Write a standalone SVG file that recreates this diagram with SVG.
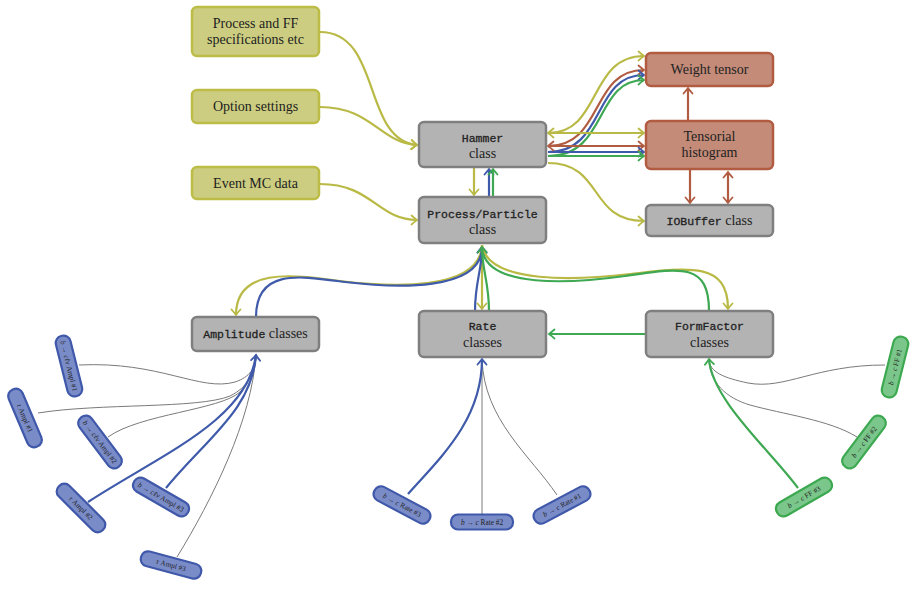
<svg xmlns="http://www.w3.org/2000/svg" width="916" height="590" viewBox="0 0 916 590">
<style>
.box{stroke-width:2.5}
.y{fill:#cccd80;stroke:#bcbc46}
.g{fill:#b3b3b3;stroke:#7f7f7f}
.b{fill:#c48b78;stroke:#b15b41}
.sb{fill:#7a8cc8;stroke:#3f58a9;stroke-width:2.2}
.sg{fill:#7bc78b;stroke:#3ca850;stroke-width:2.2}
text{font-family:"Liberation Serif","DejaVu Serif",serif;font-size:14px;fill:#222;text-anchor:middle}
.m{font-family:"Liberation Mono","DejaVu Sans Mono",monospace;font-size:11.5px;font-weight:normal;stroke:#222;stroke-width:0.3}
.s{font-size:7.3px}
.i{font-style:italic}
.c path,.c line{fill:none}
.cy{stroke:#b9b945;stroke-width:2.2}
.cr{stroke:#b15b41;stroke-width:2.2}
.cb{stroke:#3f5aaa;stroke-width:2.2}
.cg{stroke:#3ea852;stroke-width:2.2}
.cx{stroke:#7a7a7a;stroke-width:1}
</style>
<defs>
<marker id="ay" viewBox="-7 -6 9 12" markerWidth="9" markerHeight="12" refX="0" refY="0" orient="auto-start-reverse" markerUnits="userSpaceOnUse"><path d="M-5.5,-4.5 Q-1.5,-1 0,0 Q-1.5,1 -5.5,4.5" fill="none" stroke="#b9b945" stroke-width="1.8" stroke-linecap="round"/></marker>
<marker id="ar" viewBox="-7 -6 9 12" markerWidth="9" markerHeight="12" refX="0" refY="0" orient="auto-start-reverse" markerUnits="userSpaceOnUse"><path d="M-5.5,-4.5 Q-1.5,-1 0,0 Q-1.5,1 -5.5,4.5" fill="none" stroke="#b15b41" stroke-width="1.8" stroke-linecap="round"/></marker>
<marker id="ab" viewBox="-7 -6 9 12" markerWidth="9" markerHeight="12" refX="0" refY="0" orient="auto-start-reverse" markerUnits="userSpaceOnUse"><path d="M-5.5,-4.5 Q-1.5,-1 0,0 Q-1.5,1 -5.5,4.5" fill="none" stroke="#3f5aaa" stroke-width="1.8" stroke-linecap="round"/></marker>
<marker id="ag" viewBox="-7 -6 9 12" markerWidth="9" markerHeight="12" refX="0" refY="0" orient="auto-start-reverse" markerUnits="userSpaceOnUse"><path d="M-5.5,-4.5 Q-1.5,-1 0,0 Q-1.5,1 -5.5,4.5" fill="none" stroke="#3ea852" stroke-width="1.8" stroke-linecap="round"/></marker>
</defs>

<g id="connectors" class="c">
<path class="cy" d="M320,32 C382,32 362,140 417,145" marker-end="url(#ay)"/>
<path class="cy" d="M320,107 C372,107 380,143 417,145" marker-end="url(#ay)"/>
<path class="cy" d="M320,184 C372,184 378,220 417,220" marker-end="url(#ay)"/>
<line class="cy" x1="474" y1="168" x2="474" y2="195" marker-end="url(#ay)"/>
<line class="cb" x1="489" y1="197" x2="489" y2="169" marker-end="url(#ab)"/>
<line class="cg" x1="493" y1="197" x2="493" y2="169" marker-end="url(#ag)"/>
<path class="cy" d="M548,133 C602,133 588,56 644,56" marker-end="url(#ay)"/>
<path class="cr" d="M548,146 C604,146 590,70 644,70" marker-end="url(#ar)"/>
<path class="cb" d="M548,152 C606,152 592,75 644,75" marker-end="url(#ab)"/>
<path class="cg" d="M548,156 C608,156 594,80 644,80" marker-end="url(#ag)"/>
<line class="cy" x1="548" y1="133" x2="644" y2="133" marker-start="url(#ay)" marker-end="url(#ay)"/>
<line class="cr" x1="548" y1="146" x2="644" y2="146" marker-start="url(#ar)" marker-end="url(#ar)"/>
<line class="cb" x1="548" y1="152" x2="644" y2="152" marker-end="url(#ab)"/>
<line class="cg" x1="548" y1="156" x2="644" y2="156" marker-end="url(#ag)"/>
<path class="cy" d="M548,163 C604,163 588,221 644,221" marker-end="url(#ay)"/>
<line class="cr" x1="688" y1="120" x2="688" y2="88" marker-end="url(#ar)"/>
<line class="cr" x1="690" y1="170" x2="690" y2="203" marker-end="url(#ar)"/>
<line class="cr" x1="728" y1="172" x2="728" y2="203" marker-start="url(#ar)" marker-end="url(#ar)"/>
<path class="cy" d="M482,245 C480,292 390,287 340,281 C290,274 236,268 236,315" marker-end="url(#ay)"/>
<path class="cb" d="M256,317 C256,268 300,276 345,282 C395,288 482,292 482,247" marker-end="url(#ab)"/>
<line class="cy" x1="482" y1="245" x2="482" y2="309" marker-end="url(#ay)"/>
<path class="cb" d="M475,311 C475,282 482,270 482,247" marker-end="url(#ab)"/>
<path class="cg" d="M489,311 C489,282 482,270 482,247"/>
<path class="cy" d="M482,245 C488,285 580,280 630,274 C690,267 728,262 728,309" marker-end="url(#ay)"/>
<path class="cg" d="M709,311 C709,262 680,268 625,276 C575,283 484,290 482,247" marker-end="url(#ag)"/>
<line class="cg" x1="646" y1="334" x2="549" y2="334" marker-end="url(#ag)"/>
<path class="cx" d="M79,365 C160,361 200,392 235,382 C250,377 256,368 256,354"/>
<path class="cx" d="M38,413 C100,403 198,409 230,396 C248,387 256,372 256,354"/>
<path class="cx" d="M108,437 C140,414 220,410 240,392 C250,381 256,370 256,354"/>
<path class="cx" d="M177,557 C212,500 252,420 256,354"/>
<path class="cb" d="M88,502 C160,455 248,420 256,355"/>
<path class="cb" d="M166,488 C205,440 252,410 256,355" marker-end="url(#ab)"/>
<line class="cx" x1="482" y1="514" x2="482" y2="359"/>
<path class="cx" d="M557,495 C530,455 484,420 482,359"/>
<path class="cb" d="M408,494 C440,458 482,420 482,359" marker-end="url(#ab)"/>
<path class="cx" d="M885,365 C815,365 785,390 748,383 C724,378 709,372 709,359"/>
<path class="cx" d="M857,437 C830,420 782,414 750,405 C726,398 709,382 709,359"/>
<path class="cg" d="M798,488 C770,450 712,400 709,359" marker-end="url(#ag)"/>
</g>

<g id="n-pff"><rect class="box y" x="192" y="7" width="127" height="49" rx="5"/><text x="255.5" y="28">Process and FF</text><text x="255.5" y="44">specifications etc</text></g>
<g id="n-opt"><rect class="box y" x="192" y="90" width="127" height="33" rx="5"/><text x="255.5" y="111">Option settings</text></g>
<g id="n-evt"><rect class="box y" x="192" y="167" width="127" height="32" rx="5"/><text x="255.5" y="188">Event MC data</text></g>
<g id="n-hammer"><rect class="box g" x="419" y="122" width="127" height="45" rx="5"/><text class="m" x="482.5" y="142">Hammer</text><text x="482.5" y="158">class</text></g>
<g id="n-pp"><rect class="box g" x="419" y="197" width="127" height="46" rx="5"/><text class="m" x="482.5" y="218">Process/Particle</text><text x="482.5" y="234">class</text></g>
<g id="n-wt"><rect class="box b" x="646" y="53" width="127" height="33" rx="5"/><text x="709.5" y="74">Weight tensor</text></g>
<g id="n-th"><rect class="box b" x="646" y="121" width="127" height="48" rx="5"/><text x="709.5" y="141">Tensorial</text><text x="709.5" y="157">histogram</text></g>
<g id="n-io"><rect class="box g" x="646" y="205" width="127" height="31" rx="5"/><text x="709.5" y="225"><tspan class="m">IOBuffer</tspan> class</text></g>
<g id="n-amp"><rect class="box g" x="192" y="317" width="127" height="34" rx="5"/><text x="255.5" y="338"><tspan class="m">Amplitude</tspan> classes</text></g>
<g id="n-rate"><rect class="box g" x="419" y="311" width="127" height="46" rx="5"/><text class="m" x="482.5" y="330">Rate</text><text x="482.5" y="347">classes</text></g>
<g id="n-ff"><rect class="box g" x="646" y="311" width="127" height="46" rx="5"/><text class="m" x="709.5" y="330">FormFactor</text><text x="709.5" y="347">classes</text></g>

<g id="n-a1" transform="translate(69,366) rotate(76)"><rect class="sb" x="-31" y="-7.5" width="62" height="15" rx="7"/><text class="s" y="2.5"><tspan class="i">b</tspan> → <tspan class="i">cℓν</tspan> Ampl #1</text></g>
<g id="n-t1" transform="translate(25,418) rotate(67)"><rect class="sb" x="-31" y="-7.5" width="62" height="15" rx="7"/><text class="s" y="2.5"><tspan class="i">τ</tspan> Ampl #1</text></g>
<g id="n-a2" transform="translate(100,442) rotate(53)"><rect class="sb" x="-31" y="-7.5" width="62" height="15" rx="7"/><text class="s" y="2.5"><tspan class="i">b</tspan> → <tspan class="i">cℓν</tspan> Ampl #2</text></g>
<g id="n-t2" transform="translate(81,508) rotate(45)"><rect class="sb" x="-31" y="-7.5" width="62" height="15" rx="7"/><text class="s" y="2.5"><tspan class="i">τ</tspan> Ampl #2</text></g>
<g id="n-a3" transform="translate(161,497) rotate(30)"><rect class="sb" x="-31" y="-7.5" width="62" height="15" rx="7"/><text class="s" y="2.5"><tspan class="i">b</tspan> → <tspan class="i">cℓν</tspan> Ampl #3</text></g>
<g id="n-t3" transform="translate(171,565) rotate(15)"><rect class="sb" x="-31" y="-7.5" width="62" height="15" rx="7"/><text class="s" y="2.5"><tspan class="i">τ</tspan> Ampl #3</text></g>
<g id="n-r3" transform="translate(402,505) rotate(28)"><rect class="sb" x="-31" y="-7.5" width="62" height="15" rx="7"/><text class="s" y="2.5"><tspan class="i">b</tspan> → <tspan class="i">c</tspan> Rate #3</text></g>
<g id="n-r2" transform="translate(482,522)"><rect class="sb" x="-31" y="-7.5" width="62" height="15" rx="7"/><text class="s" y="2.5"><tspan class="i">b</tspan> → <tspan class="i">c</tspan> Rate #2</text></g>
<g id="n-r1" transform="translate(562,505) rotate(-28)"><rect class="sb" x="-31" y="-7.5" width="62" height="15" rx="7"/><text class="s" y="2.5"><tspan class="i">b</tspan> → <tspan class="i">c</tspan> Rate #1</text></g>
<g id="n-f1" transform="translate(895,367) rotate(-76)"><rect class="sg" x="-31" y="-7.5" width="62" height="15" rx="7"/><text class="s" y="2.5"><tspan class="i">b</tspan> → <tspan class="i">c</tspan> FF #1</text></g>
<g id="n-f2" transform="translate(864,442) rotate(-53)"><rect class="sg" x="-31" y="-7.5" width="62" height="15" rx="7"/><text class="s" y="2.5"><tspan class="i">b</tspan> → <tspan class="i">c</tspan> FF #2</text></g>
<g id="n-f3" transform="translate(804,497) rotate(-30)"><rect class="sg" x="-31" y="-7.5" width="62" height="15" rx="7"/><text class="s" y="2.5"><tspan class="i">b</tspan> → <tspan class="i">c</tspan> FF #3</text></g>
</svg>
